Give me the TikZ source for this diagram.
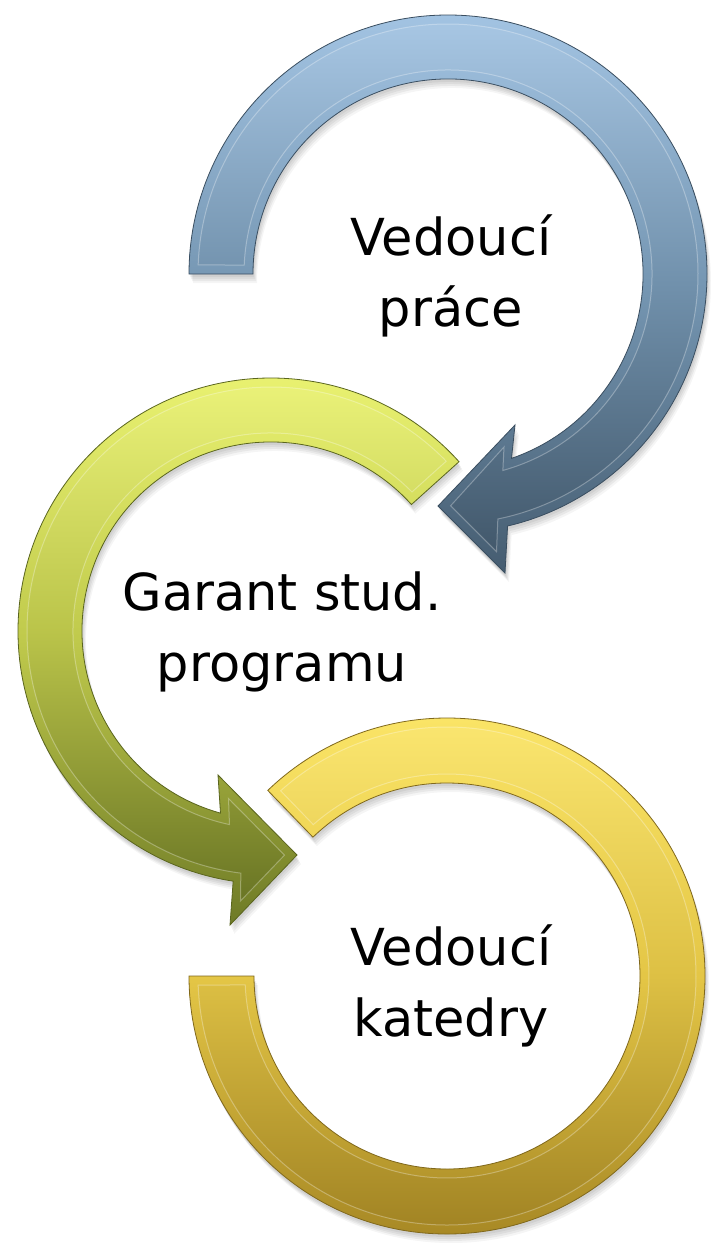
\documentclass[tikz,border=0pt]{standalone}
\usepackage{fontspec}
\setmainfont{DejaVu Sans}
\usetikzlibrary{calc}
\definecolor{bluetop}{HTML}{A2C3E2}
\definecolor{bluemid}{HTML}{7495B1}
\definecolor{bluebot}{HTML}{455C70}
\definecolor{blueedge}{HTML}{3A4E60}
\definecolor{greentop}{HTML}{EDF574}
\definecolor{greenmid}{HTML}{C0CA4C}
\definecolor{greenbot}{HTML}{6E7A26}
\definecolor{greenedge}{HTML}{5A651E}
\definecolor{yeltop}{HTML}{FAE466}
\definecolor{yelmid}{HTML}{E4C646}
\definecolor{yelbot}{HTML}{A88925}
\definecolor{yeledge}{HTML}{80681C}
% shapes
\newcommand{\bluearrow}[1]{%
 \path[#1] (189,-274) arc[start angle=180,end angle=-76.7,radius=259]
  -- (505,-573) -- (438,-506) -- (515,-425)
  -- ([shift={(-71:195)}]448,-274) arc[start angle=-71,end angle=180,radius=195] -- cycle;}
\newcommand{\blueface}[1]{%
 \path[#1] ([shift={(177.9:250)}]448,-274) arc[start angle=177.9,end angle=-78.5,radius=250]
  -- (496.5,-551.7) -- (450.6,-505.8) -- (504,-447)
  -- ([shift={(-74.4:204)}]448,-274) arc[start angle=-74.4,end angle=177.5,radius=204] -- cycle;}
\newcommand{\greenarrow}[1]{%
 \path[#1] ([shift={(42:253)}]271,-631) arc[start angle=42,end angle=261.4,radius=253]
  -- (230,-925) -- (297,-855) -- (218,-775)
  -- ([shift={(254.5:189)}]271,-631) arc[start angle=254.5,end angle=42,radius=189] -- cycle;}
\newcommand{\greenface}[1]{%
 \path[#1] ([shift={(44.1:244)}]271,-631) arc[start angle=44.1,end angle=262.9,radius=244]
  -- (240.5,-901) -- (284.5,-855.1) -- (228.5,-798.5)
  -- ([shift={(257.9:198)}]271,-631) arc[start angle=257.9,end angle=44.6,radius=198] -- cycle;}
\newcommand{\yelarc}[1]{%
 \path[#1] (189,-976) arc[start angle=180,end angle=494,radius=258]
  -- ([shift={(494:193)}]447,-976) arc[start angle=494,end angle=180,radius=193] -- cycle;}
\newcommand{\yelface}[1]{%
 \path[#1] ([shift={(182.07:249)}]447,-976) arc[start angle=182.07,end angle=491.93,radius=249]
  -- ([shift={(491.45:202)}]447,-976) arc[start angle=491.45,end angle=182.55,radius=202] -- cycle;}
\newcommand{\shadowed}[1]{%
 #1{fill=black,opacity=0.05,shift={(1,-3)}}
 #1{fill=black,opacity=0.05,shift={(2,-5)}}
 #1{fill=black,opacity=0.05,shift={(3,-7)}}
 #1{fill=black,opacity=0.04,shift={(4,-9)}}}
\begin{document}
\begin{tikzpicture}[x=1pt,y=1pt,
  lbl/.style={align=center,font=\fontsize{51}{71}\selectfont,text=black,inner sep=0pt},
  face/.style={draw=white,draw opacity=0.3,line width=1pt}]
\useasboundingbox (0,0) rectangle (710,-1243);
\fill[white] (0,0) rectangle (710,-1243);
% yellow
\shadowed{\yelarc}
\yelarc{top color=yeltop,bottom color=yelbot,middle color=yelmid,draw=yeledge,line width=0.8pt}
\yelface{top color=yeltop!94!white,bottom color=yelbot!96!black,middle color=yelmid!97!black,face}
% green
\shadowed{\greenarrow}
\greenarrow{top color=greentop,bottom color=greenbot,middle color=greenmid,draw=greenedge,line width=0.8pt}
\greenface{top color=greentop!94!white,bottom color=greenbot!96!black,middle color=greenmid!97!black,face}
% blue
\shadowed{\bluearrow}
\bluearrow{top color=bluetop,bottom color=bluebot,middle color=bluemid,draw=blueedge,line width=0.8pt}
\blueface{top color=bluetop!94!white,bottom color=bluebot!96!black,middle color=bluemid!97!black,face}
% labels
\node[lbl] (t1) at (451,-276) {Vedoucí\\práce};
\node[lbl] (t2) at (282,-632) {Garant stud.\\programu};
\node[lbl] (t3) at (451,-986) {Vedoucí\\katedry};
\end{tikzpicture}
\end{document}
